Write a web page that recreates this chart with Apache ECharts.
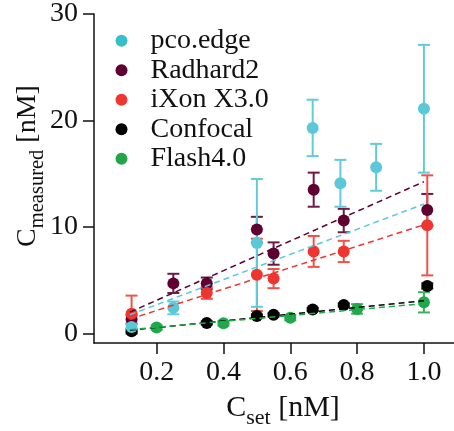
<!DOCTYPE html>
<html>
<head>
<meta charset="utf-8">
<script src="https://cdn.jsdelivr.net/npm/echarts@6/dist/echarts.min.js"></script>
<style>
  html, body { margin: 0; padding: 0; background: #fff; }
  #chart { width: 454px; height: 431px; }
</style>
</head>
<body>
<div id="chart"></div>
<script>
// values
const pcoX = [0.125, 0.25, 0.5, 0.667, 0.75, 0.857, 1.0];
const pcoY = [0.6, 2.4, 8.5, 19.3, 14.1, 15.6, 21.1];
const pcoErr = [0.3, 0.6, 6.0, 2.65, 2.2, 2.2, 6.0];

const radX = [0.125, 0.25, 0.35, 0.5, 0.55, 0.67, 0.76, 1.01];
const radY = [1.3, 4.7, 4.7, 9.75, 7.5, 13.5, 10.6, 11.6];
const radErr = [0.4, 0.9, 0.55, 1.2, 1.05, 1.6, 1.1, 1.5];

const ixonX = [0.125, 0.35, 0.5, 0.55, 0.67, 0.76, 1.01];
const ixonY = [1.85, 3.8, 5.5, 5.15, 7.7, 7.7, 10.15];
const ixonErr = [1.7, 0.55, 3.4, 0.9, 1.45, 1.0, 4.7];

const confX = [0.125, 0.35, 0.5, 0.55, 0.667, 0.76, 1.01];
const confY = [0.2, 0.98, 1.63, 1.75, 2.25, 2.67, 4.46];
const confErr = [0.2, 0.15, 0.15, 0.15, 0.15, 0.15, 0.25];

const flashX = [0.2, 0.4, 0.6, 0.8, 1.0];
const flashY = [0.55, 0.95, 1.48, 2.3, 2.92];
const flashErr = [0.2, 0.2, 0.25, 0.45, 0.95];

// linear fits (end points)
const pcoFit = [[0.12, 1.75], [1.0, 12.15]];
const radFit = [[0.12, 2.0], [1.0, 14.25]];
const ixonFit = [[0.12, 1.35], [1.0, 10.2]];
const confFit = [[0.12, 0.3], [1.0, 3.07]];
const flashFit = [[0.12, 0.35], [1.0, 2.8]];

const xTicks = [0.2, 0.4, 0.6, 0.8, 1.0];
const yTicks = [0, 10, 20, 30];

const FONT = '"Liberation Serif", "Times New Roman", serif';

const groups = [
    {name: 'Radhard2', x: radX, y: radY, err: radErr, fit: radFit, color: '#5e0030', bar: '#6e1a42', legend: '#5e0030'},
    {name: 'iXon X3.0', x: ixonX, y: ixonY, err: ixonErr, fit: ixonFit, color: '#ee3530', bar: '#f0524a', legend: '#ee3530'},
    {name: 'Confocal', x: confX, y: confY, err: confErr, fit: confFit, color: '#000000', bar: '#222222', legend: '#000000'},
    {name: 'Flash4.0', x: flashX, y: flashY, err: flashErr, fit: flashFit, color: '#20a84c', bar: '#3db060', legend: '#22a54a'},
    {name: 'pco.edge', x: pcoX, y: pcoY, err: pcoErr, fit: pcoFit, color: '#5bc8da', bar: '#62cbdb', legend: '#35bfc8'}
];

const chart = echarts.init(document.getElementById('chart'));

function errRender(color) {
    return function (params, api) {
        const x = api.value(0);
        const top = api.coord([x, api.value(2)]);
        const bot = api.coord([x, api.value(1)]);
        const w = 6;
        const style = {stroke: color, lineWidth: 2};
        return {
            type: 'group',
            children: [
                {type: 'line', shape: {x1: top[0], y1: top[1], x2: bot[0], y2: bot[1]}, style: style},
                {type: 'line', shape: {x1: top[0] - w, y1: top[1], x2: top[0] + w, y2: top[1]}, style: style},
                {type: 'line', shape: {x1: bot[0] - w, y1: bot[1], x2: bot[0] + w, y2: bot[1]}, style: style}
            ]
        };
    };
}

const series = [];
groups.forEach(function (g) {
    series.push({
        type: 'custom',
        z: 1,
        renderItem: errRender(g.bar),
        data: g.x.map(function (x, i) { return [x, g.y[i] - g.err[i], g.y[i] + g.err[i]]; }),
        encode: {x: 0, y: [1, 2]},
        silent: true
    });
});
groups.forEach(function (g) {
    series.push({
        name: g.name,
        type: 'scatter',
        z: 2,
        symbol: 'circle',
        symbolSize: 12,
        itemStyle: {color: g.color, opacity: 1},
        data: g.x.map(function (x, i) { return [x, g.y[i]]; })
    });
});
groups.forEach(function (g) {
    series.push({
        type: 'line',
        z: 3,
        showSymbol: false,
        symbol: 'none',
        lineStyle: {color: g.color, width: 1.5, type: [6, 4]},
        data: g.fit
    });
});

const legendOrder = ['pco.edge', 'Radhard2', 'iXon X3.0', 'Confocal', 'Flash4.0'];

const option = {
    animation: false,
    backgroundColor: '#ffffff',
    textStyle: {fontFamily: FONT},
    grid: {left: 94, right: 0, top: 9.3, bottom: 88},
    legend: {
        orient: 'vertical',
        left: 110.5,
        top: 21,
        itemWidth: 12,
        itemHeight: 12,
        itemGap: 0,
        icon: 'circle',
        formatter: function (n) { return '{t|' + n + '}'; },
        textStyle: {
            fontFamily: FONT, fontSize: 28, color: '#111', lineHeight: 29.5, padding: [0, 0, 0, 18],
            rich: {t: {fontFamily: FONT, fontSize: 28, lineHeight: 29.5, color: '#111'}}
        },
        data: legendOrder.map(function (n) {
            const g = groups.find(function (q) { return q.name === n; });
            return {name: n, icon: 'circle', itemStyle: {color: g.legend}};
        })
    },
    xAxis: {
        type: 'value',
        min: 0.0125,
        max: 1.09,
        axisLine: {show: true, onZero: false, lineStyle: {color: '#111', width: 1.5}},
        axisTick: {show: true, length: 11, customValues: xTicks, lineStyle: {color: '#111', width: 1.5}},
        axisLabel: {
            customValues: xTicks, fontFamily: FONT, fontSize: 28, color: '#111', margin: 16,
            formatter: function (v) { return '{t|' + v.toFixed(1) + '}'; },
            rich: {t: {fontFamily: FONT, fontSize: 28, color: '#111'}}
        },
        splitLine: {show: false}
    },
    yAxis: {
        type: 'value',
        min: -0.9,
        max: 30,
        axisLine: {show: true, onZero: false, lineStyle: {color: '#111', width: 1.5}},
        axisTick: {show: true, length: 11, customValues: yTicks, lineStyle: {color: '#111', width: 1.5}},
        axisLabel: {
            customValues: yTicks, fontFamily: FONT, fontSize: 28, color: '#111', margin: 16,
            formatter: function (v) { return '{t|' + v + '}'; },
            rich: {t: {fontFamily: FONT, fontSize: 28, color: '#111'}}
        },
        splitLine: {show: false}
    },
    graphic: [
        {
            type: 'text',
            x: 283, y: 408,
            style: {
                text: '{a|C}{b|set}{a| [nM]}',
                align: 'center', verticalAlign: 'middle',
                rich: {
                    a: {fontFamily: FONT, fontSize: 30, lineHeight: 30, fill: '#111'},
                    b: {fontFamily: FONT, fontSize: 22, lineHeight: 22, padding: [20, 0, 0, 0], fill: '#111'}
                }
            }
        },
        {
            type: 'text',
            x: 28, y: 166,
            rotation: Math.PI / 2,
            style: {
                text: '{a|C}{b|measured}{a| [nM]}',
                align: 'center', verticalAlign: 'middle',
                rich: {
                    a: {fontFamily: FONT, fontSize: 28, lineHeight: 28, fill: '#111'},
                    b: {fontFamily: FONT, fontSize: 20.5, lineHeight: 20.5, padding: [19, 0, 0, 0], fill: '#111'}
                }
            }
        }
    ],
    series: series
};

chart.setOption(option);
</script>
</body>
</html>
